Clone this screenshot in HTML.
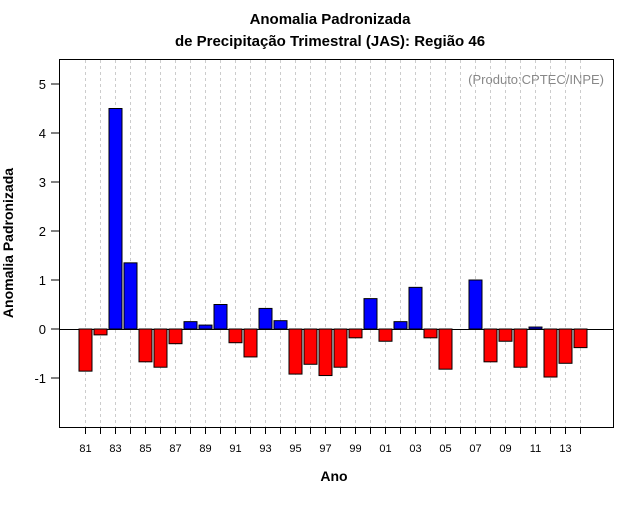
<!DOCTYPE html>
<html><head><meta charset="utf-8"><style>body{margin:0;background:#fff}svg{font-family:"Liberation Sans",sans-serif}</style></head>
<body>
<svg id="c" width="640" height="500">
<text x="330" y="24" text-anchor="middle" font-size="15" font-weight="bold">Anomalia Padronizada</text>
<text x="330" y="46" text-anchor="middle" font-size="15" font-weight="bold">de Precipitação Trimestral (JAS): Região 46</text>
<text x="604" y="84" text-anchor="end" font-size="13" fill="#888">(Produto:CPTEC/INPE)</text>
<text x="334" y="481" text-anchor="middle" font-size="14" font-weight="bold">Ano</text>
<text transform="translate(13,243) rotate(-90)" text-anchor="middle" font-size="14" font-weight="bold">Anomalia Padronizada</text>
<g id="g"></g>
<rect x="59.5" y="59.5" width="554" height="368" fill="none" stroke="#000"/>
</svg>
<script>
const years=[81,82,83,84,85,86,87,88,89,90,91,92,93,94,95,96,97,98,99,0,1,2,3,4,5,6,7,8,9,10,11,12,13,14];
const values=[-0.86,-0.12,4.5,1.35,-0.67,-0.78,-0.3,0.15,0.08,0.5,-0.28,-0.57,0.42,0.17,-0.92,-0.72,-0.95,-0.78,-0.18,0.62,-0.25,0.15,0.85,-0.18,-0.82,0,1.0,-0.67,-0.25,-0.78,0.04,-0.98,-0.7,-0.38];
const yTicks=[-1,0,1,2,3,4,5];
const NS='http://www.w3.org/2000/svg';
const g=document.getElementById('g');
const X=i=>85.5+i*15;
const Y=v=>329-v*49;
function mk(t,a){const e=document.createElementNS(NS,t);for(const k in a)e.setAttribute(k,a[k]);g.appendChild(e);return e;}
years.forEach((yr,i)=>{
 const l=mk('line',{x1:X(i),x2:X(i),y1:60,y2:427,stroke:'#ccc','stroke-dasharray':'3,3'});
 
 
 const t=mk('line',{x1:X(i),x2:X(i),y1:427,y2:434,stroke:'#000'});
 
 
 if(i%2===0){const tx=mk('text',{x:X(i),y:452,'text-anchor':'middle','font-size':11});tx.textContent=String(yr).padStart(2,'0');
 
 }
});
mk('line',{x1:59,x2:613,y1:Y(0)+0.5,y2:Y(0)+0.5,stroke:'#000'});
values.forEach((v,i)=>{
 if(v===0)return;
 const y0=Y(0),y1=Y(v);
 const r=mk('rect',{x:X(i)-6.5,y:Math.min(y0,y1),width:13,height:Math.abs(y1-y0),fill:v>0?'#00f':'#f00',stroke:'#000'});
 
 
});
yTicks.forEach(v=>{
 const t=mk('line',{x1:51,x2:59,y1:Y(v),y2:Y(v),stroke:'#000'});
 
 
 const tx=mk('text',{x:46,y:Y(v)+5,'text-anchor':'end','font-size':13});tx.textContent=v;
 
 
});
</script>
</body></html>
